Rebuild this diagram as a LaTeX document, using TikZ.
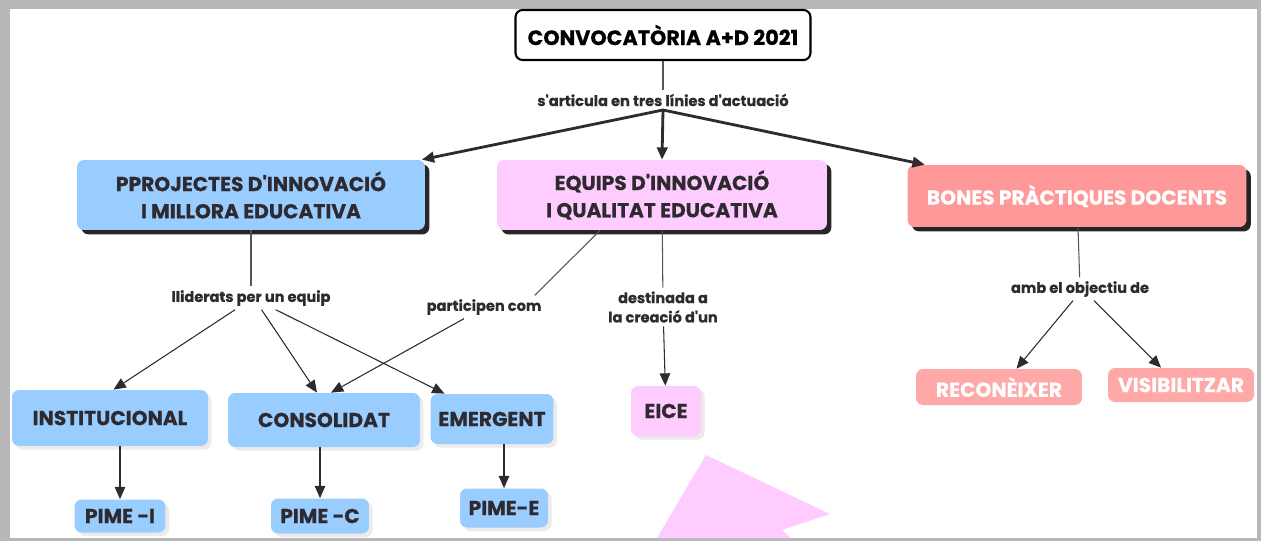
\documentclass[tikz,border=0pt]{standalone}
\usepackage{fontspec}
\setmainfont{Poppins}[Ligatures=TeXOff, BoldFeatures={FakeBold=0.5}]
\usepackage{tikz}
\usetikzlibrary{arrows.meta, shadows}
\definecolor{mapInk}{HTML}{2E2A30}
\definecolor{mapLine}{HTML}{555555}
\definecolor{mapBlue}{HTML}{99CCFF}
\definecolor{mapPink}{HTML}{FFCCFF}
\definecolor{mapRose}{HTML}{FF9999}
\definecolor{mapFrame}{HTML}{B8B8B8}

\begin{document}
\begin{tikzpicture}[
    x=0.02cm, y=-0.02cm,
    >={Triangle[length=7pt,width=6pt]},
    % --- estils del mapa ---
    caixa/.style={draw=none, rectangle, rounded corners=4pt, align=center,
                  font=\fontsize{11.5}{15.5}\selectfont\bfseries, text=mapInk},
    arrel/.style={caixa, draw=black, line width=1.2pt, fill=white, text=black,
                  font=\fontsize{11.8}{15}\selectfont\bfseries,
                  minimum width=5.9cm, minimum height=1.0cm},
    nivell/.style={caixa, drop shadow={shadow xshift=2.5pt, shadow yshift=-2.5pt,
                   fill=black!85, opacity=1}},
    fulla/.style={caixa, drop shadow={shadow xshift=2pt, shadow yshift=-2pt,
                  fill=black!8, opacity=1}},
    rosa/.style={caixa, fill=mapRose, text=white},
    enllac/.style={font=\fontsize{8.3}{11}\selectfont\bfseries, text=mapInk, align=center, inner sep=2pt},
    linia/.style={draw=mapLine, line width=0.6pt},
    fletxa/.style={->, draw=mapInk, line width=0.6pt},
    gruixuda/.style={->, draw=mapInk, line width=1.6pt}
]

% ====== Marc ======
\fill[mapFrame] (0,0) rectangle (1261,541);
\fill[white] (10,9) rectangle (1257,538);

% ====== Arrel ======
\node[arrel] (conv) at (663,35) {CONVOCATÒRIA A+D 2021};
\node[enllac] (lbltres) at (663,100) {s'articula en tres línies d'actuació};
\draw[linia] (conv) -- (lbltres);

% ====== Línies d'actuació ======
\node[nivell, fill=mapBlue, minimum width=6.96cm, minimum height=1.4cm] (proj) at (251,195)
    {PPROJECTES D'INNOVACIÓ\\I MILLORA EDUCATIVA};
\node[nivell, fill=mapPink, minimum width=6.6cm, minimum height=1.4cm] (equips) at (662,195)
    {EQUIPS D'INNOVACIÓ\\I QUALITAT EDUCATIVA};
\node[nivell, rosa, minimum width=6.78cm, minimum height=1.24cm] (bones) at (1077,196)
    {BONES PRÀCTIQUES DOCENTS};

\draw[gruixuda] (lbltres.south) -- ([xshift=-2pt]proj.north east);
\draw[gruixuda] (lbltres.south) -- (equips.north);
\draw[gruixuda] (lbltres.south) -- ([xshift=10pt]bones.north west);

% ====== Projectes ======
\node[enllac] (lbllid) at (251,298) {lliderats per un equip};
\draw[linia] (proj) -- (lbllid);

\node[fulla, fill=mapBlue, minimum width=3.92cm, minimum height=1.12cm] (inst) at (110,418) {INSTITUCIONAL};
\node[fulla, fill=mapBlue, minimum width=3.84cm, minimum height=1.08cm] (cons) at (324,420) {CONSOLIDAT};
\node[fulla, fill=mapBlue, minimum width=2.46cm, minimum height=1.0cm] (emer) at (492,419) {EMERGENT};

\draw[fletxa] ([xshift=-9pt]lbllid.south) -- ([xshift=2pt]inst.north);
\draw[fletxa] ([xshift=6pt]lbllid.south) -- ([xshift=-4pt]cons.north);
\draw[fletxa] ([xshift=14pt]lbllid.south) -- ([xshift=-0.95cm]emer.north);

\node[fulla, fill=mapBlue, minimum width=1.82cm, minimum height=0.66cm] (pimei) at (120,516) {PIME -I};
\node[fulla, fill=mapBlue, minimum width=1.96cm, minimum height=0.7cm] (pimec) at (320,516) {PIME -C};
\node[fulla, fill=mapBlue, minimum width=1.76cm, minimum height=0.78cm] (pimee) at (504,508) {PIME-E};

\draw[fletxa] (pimei.north |- inst.south) -- (pimei.north);
\draw[fletxa] (pimec.north |- cons.south) -- (pimec.north);
\draw[fletxa] (pimee.north |- emer.south) -- (pimee.north);

% ====== Equips ======
\node[enllac] (lblpart) at (484,307) {participen com};
\draw[linia] ([xshift=-1.24cm]equips.south) -- ([xshift=-6pt]lblpart.north east);
\draw[fletxa] ([xshift=-0.4cm]lblpart.south) -- ([xshift=4pt]cons.north);

\node[enllac] (lbldest) at (663,307) {destinada a\\la creació d'un};
\draw[linia] (equips) -- (lbldest);
\node[fulla, fill=mapPink, minimum width=1.4cm, minimum height=1.0cm] (eice) at (666,411) {EICE};
\draw[fletxa] (lbldest) -- (eice);

% ====== Bones pràctiques ======
\node[enllac] (lblobj) at (1080,289) {amb el objectiu de};
\draw[linia] (bones) -- (lblobj);
\node[caixa, fill=mapRose!85!white, text=white, minimum width=3.32cm, minimum height=0.72cm] (recon) at (999,387) {RECONÈIXER};
\node[caixa, fill=mapRose!85!white, text=white, minimum width=2.92cm, minimum height=0.68cm] (visib) at (1181,385) {VISIBILITZAR};
\draw[fletxa] ([xshift=-4pt]lblobj.south) -- ([xshift=0.35cm]recon.north);
\draw[fletxa] ([xshift=8pt]lblobj.south) -- ([xshift=-0.4cm]visib.north);

% --- fletxa rosa retallada ---
\fill[mapPink] (706,455) -- (830,514) -- (782,530) -- (790,538) -- (657,538) -- cycle;

\end{tikzpicture}
\end{document}
